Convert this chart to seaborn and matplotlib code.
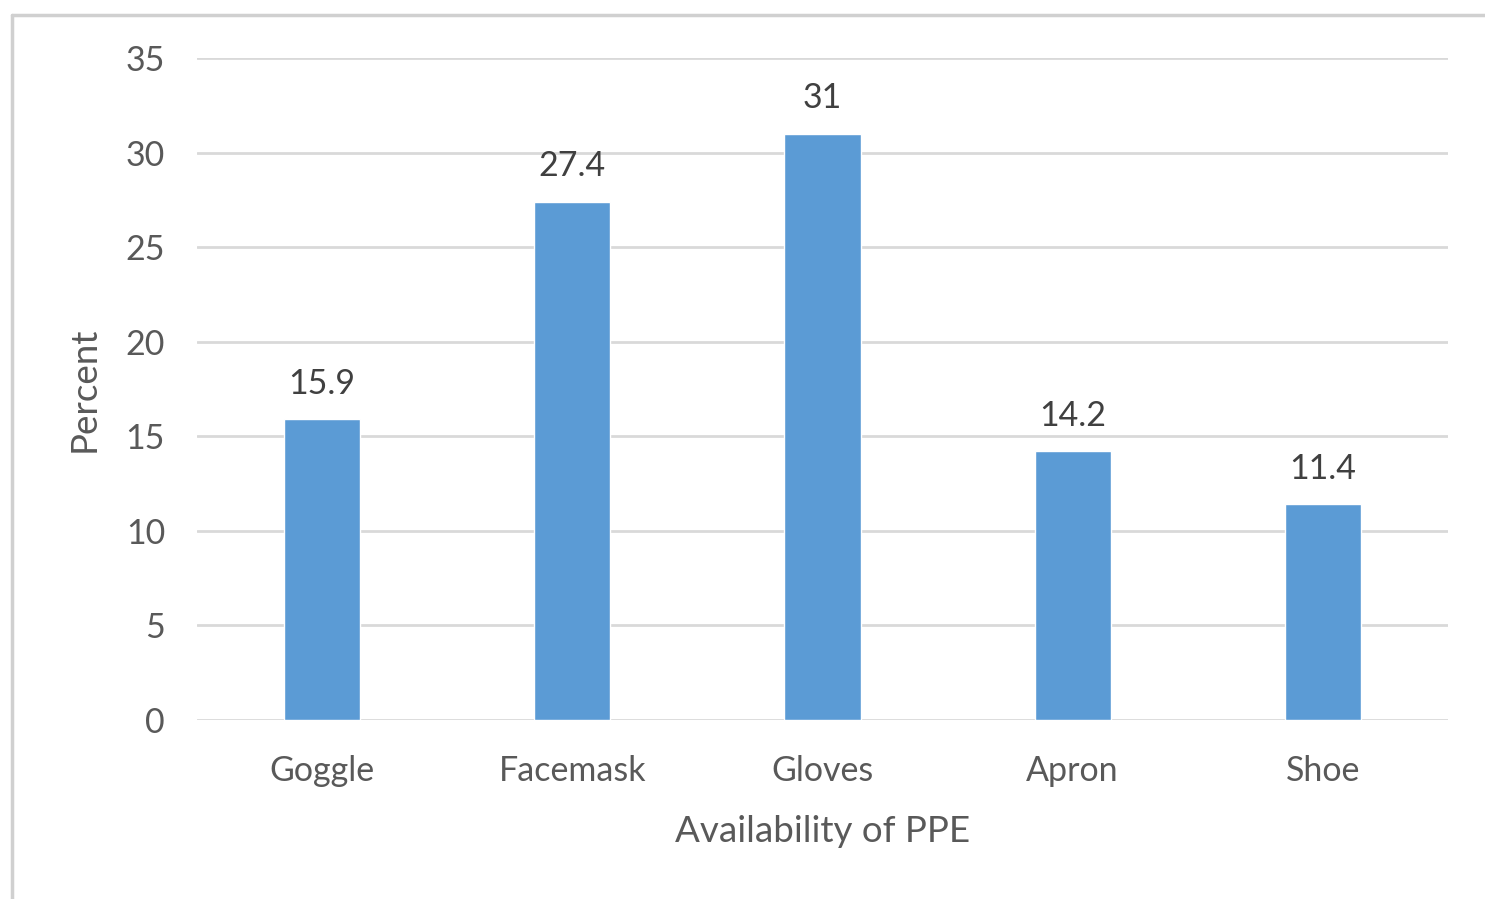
#!/usr/bin/env python3

import pandas as pd
import matplotlib
matplotlib.use("Agg")
import matplotlib.pyplot as plt
from matplotlib.lines import Line2D
import seaborn as sns

categories = ["Goggle", "Facemask", "Gloves", "Apron", "Shoe"]
percent = [15.9, 27.4, 31, 14.2, 11.4]
value_labels = ["15.9", "27.4", "31", "14.2", "11.4"]
y_ticks = [0, 5, 10, 15, 20, 25, 30, 35]

TEXT = "#595959"
GRID = "#D9D9D9"
BAR = "#5B9BD5"


def plot_bars(df):
    sns.set_style("white")
    plt.rcParams['font.family'] = ['Lato', 'DejaVu Sans']

    fig = plt.figure(figsize=(14.85, 8.99), dpi=100)
    ax = fig.add_axes([197/1485, 1 - 720/899, (1448-197)/1485, (720-58)/899])

    sns.barplot(data=df, x="item", y="percent", color=BAR, width=0.305,
                saturation=1, ax=ax, zorder=3)

    ax.set_ylim(0, 35)
    ax.set_xlim(-0.5, len(categories) - 0.5)
    ax.set_yticks(y_ticks)
    ax.set_yticklabels([str(t) for t in y_ticks])
    ax.yaxis.grid(True, color=GRID, linewidth=2.0)
    ax.set_axisbelow(True)
    for s in ax.spines.values():
        s.set_visible(False)

    ax.tick_params(axis="both", length=0, labelsize=24.5, colors=TEXT)
    ax.tick_params(axis="y", pad=23)
    ax.tick_params(axis="x", pad=25)

    ax.set_xlabel("Availability of PPE", fontsize=26.5, color=TEXT, labelpad=20)
    ax.set_ylabel("Percent", fontsize=26.5, color=TEXT, labelpad=18)

    ax.bar_label(ax.containers[0], labels=value_labels, padding=14,
                 fontsize=24.5, color="#404040")

    # light frame like the original chart box
    fig.add_artist(Line2D([12/1485, 1], [1 - 15/899, 1 - 15/899],
                          color="#D0D0D0", linewidth=2.5, transform=fig.transFigure))
    fig.add_artist(Line2D([12/1485, 12/1485], [0, 1 - 15/899],
                          color="#D0D0D0", linewidth=2.5, transform=fig.transFigure))

    fig.savefig("out.png", dpi=100)


def main():
    df = pd.DataFrame({"item": categories, "percent": percent})
    plot_bars(df)


if __name__ == '__main__':
    main()
